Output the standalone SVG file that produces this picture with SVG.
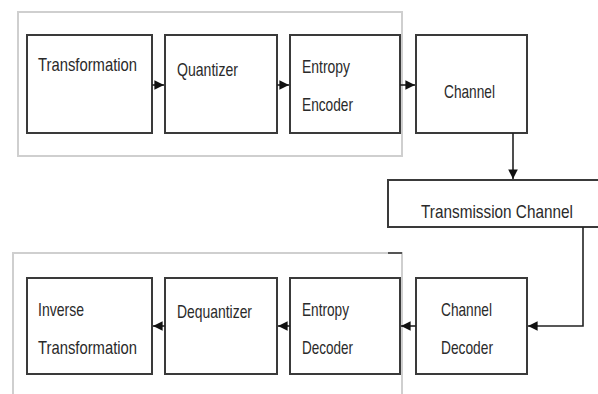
<svg xmlns="http://www.w3.org/2000/svg" width="598" height="394" viewBox="0 0 598 394">
<style>
.frame{fill:none;stroke:#cfcfcf;stroke-width:2}
.box{fill:#fff;stroke:#3a3a3a;stroke-width:2}
.lbl{font-family:"Liberation Sans",Arial,sans-serif;font-size:19px;fill:#2a2a2a}
.con{fill:none;stroke:#222;stroke-width:1.6}
</style>
<defs>
<marker id="ah" viewBox="0 0 10 10" refX="10" refY="5" markerWidth="6" markerHeight="6" orient="auto" markerUnits="strokeWidth">
<path d="M0,0 L10,5 L0,10 Z" fill="#111"/>
</marker>
</defs>
<rect width="598" height="394" fill="#fff"/>
<g id="frames">
<rect class="frame" x="18" y="12" width="384" height="144"/>
<path class="frame" d="M13,394 V253 H402 V394"/>
<line x1="388" y1="253" x2="402" y2="253" stroke="#555" stroke-width="2"/>
</g>
<g id="transformation">
<rect class="box" x="27" y="35" width="125" height="98"/>
<text class="lbl" x="38" y="71" textLength="99" lengthAdjust="spacingAndGlyphs">Transformation</text>
</g>
<g id="quantizer">
<rect class="box" x="165" y="35" width="112" height="98"/>
<text class="lbl" x="177" y="76" textLength="61" lengthAdjust="spacingAndGlyphs">Quantizer</text>
</g>
<g id="entropy-encoder">
<rect class="box" x="290" y="35" width="110" height="98"/>
<text class="lbl" x="302" y="73" textLength="48" lengthAdjust="spacingAndGlyphs">Entropy</text>
<text class="lbl" x="302" y="111" textLength="51" lengthAdjust="spacingAndGlyphs">Encoder</text>
</g>
<g id="channel">
<rect class="box" x="416" y="35" width="111" height="98"/>
<text class="lbl" x="444" y="98" textLength="51" lengthAdjust="spacingAndGlyphs">Channel</text>
</g>
<g id="transmission-channel">
<path class="box" d="M600,180 H388 V227 H600"/>
<text class="lbl" x="421" y="218" textLength="152" lengthAdjust="spacingAndGlyphs">Transmission Channel</text>
</g>
<g id="inverse-transformation">
<rect class="box" x="27" y="278" width="125" height="96"/>
<text class="lbl" x="38" y="316" textLength="46" lengthAdjust="spacingAndGlyphs">Inverse</text>
<text class="lbl" x="38" y="354" textLength="99" lengthAdjust="spacingAndGlyphs">Transformation</text>
</g>
<g id="dequantizer">
<rect class="box" x="165" y="278" width="112" height="96"/>
<text class="lbl" x="177" y="318" textLength="75" lengthAdjust="spacingAndGlyphs">Dequantizer</text>
</g>
<g id="entropy-decoder">
<rect class="box" x="290" y="278" width="110" height="96"/>
<text class="lbl" x="302" y="316" textLength="47" lengthAdjust="spacingAndGlyphs">Entropy</text>
<text class="lbl" x="302" y="354" textLength="51" lengthAdjust="spacingAndGlyphs">Decoder</text>
</g>
<g id="channel-decoder">
<rect class="box" x="416" y="278" width="111" height="96"/>
<text class="lbl" x="441" y="316" textLength="51" lengthAdjust="spacingAndGlyphs">Channel</text>
<text class="lbl" x="441" y="354" textLength="52" lengthAdjust="spacingAndGlyphs">Decoder</text>
</g>
<g id="connectors">
<line class="con" x1="152" y1="85" x2="164" y2="85" marker-end="url(#ah)"/>
<line class="con" x1="277" y1="85" x2="289" y2="85" marker-end="url(#ah)"/>
<line class="con" x1="400" y1="85" x2="415" y2="85" marker-end="url(#ah)"/>
<line class="con" x1="513" y1="133" x2="513" y2="179" marker-end="url(#ah)"/>
<polyline class="con" points="583,227 583,326 528,326" marker-end="url(#ah)"/>
<line class="con" x1="416" y1="326" x2="401" y2="326" marker-end="url(#ah)"/>
<line class="con" x1="290" y1="326" x2="278" y2="326" marker-end="url(#ah)"/>
<line class="con" x1="165" y1="326" x2="153" y2="326" marker-end="url(#ah)"/>
</g>
</svg>
